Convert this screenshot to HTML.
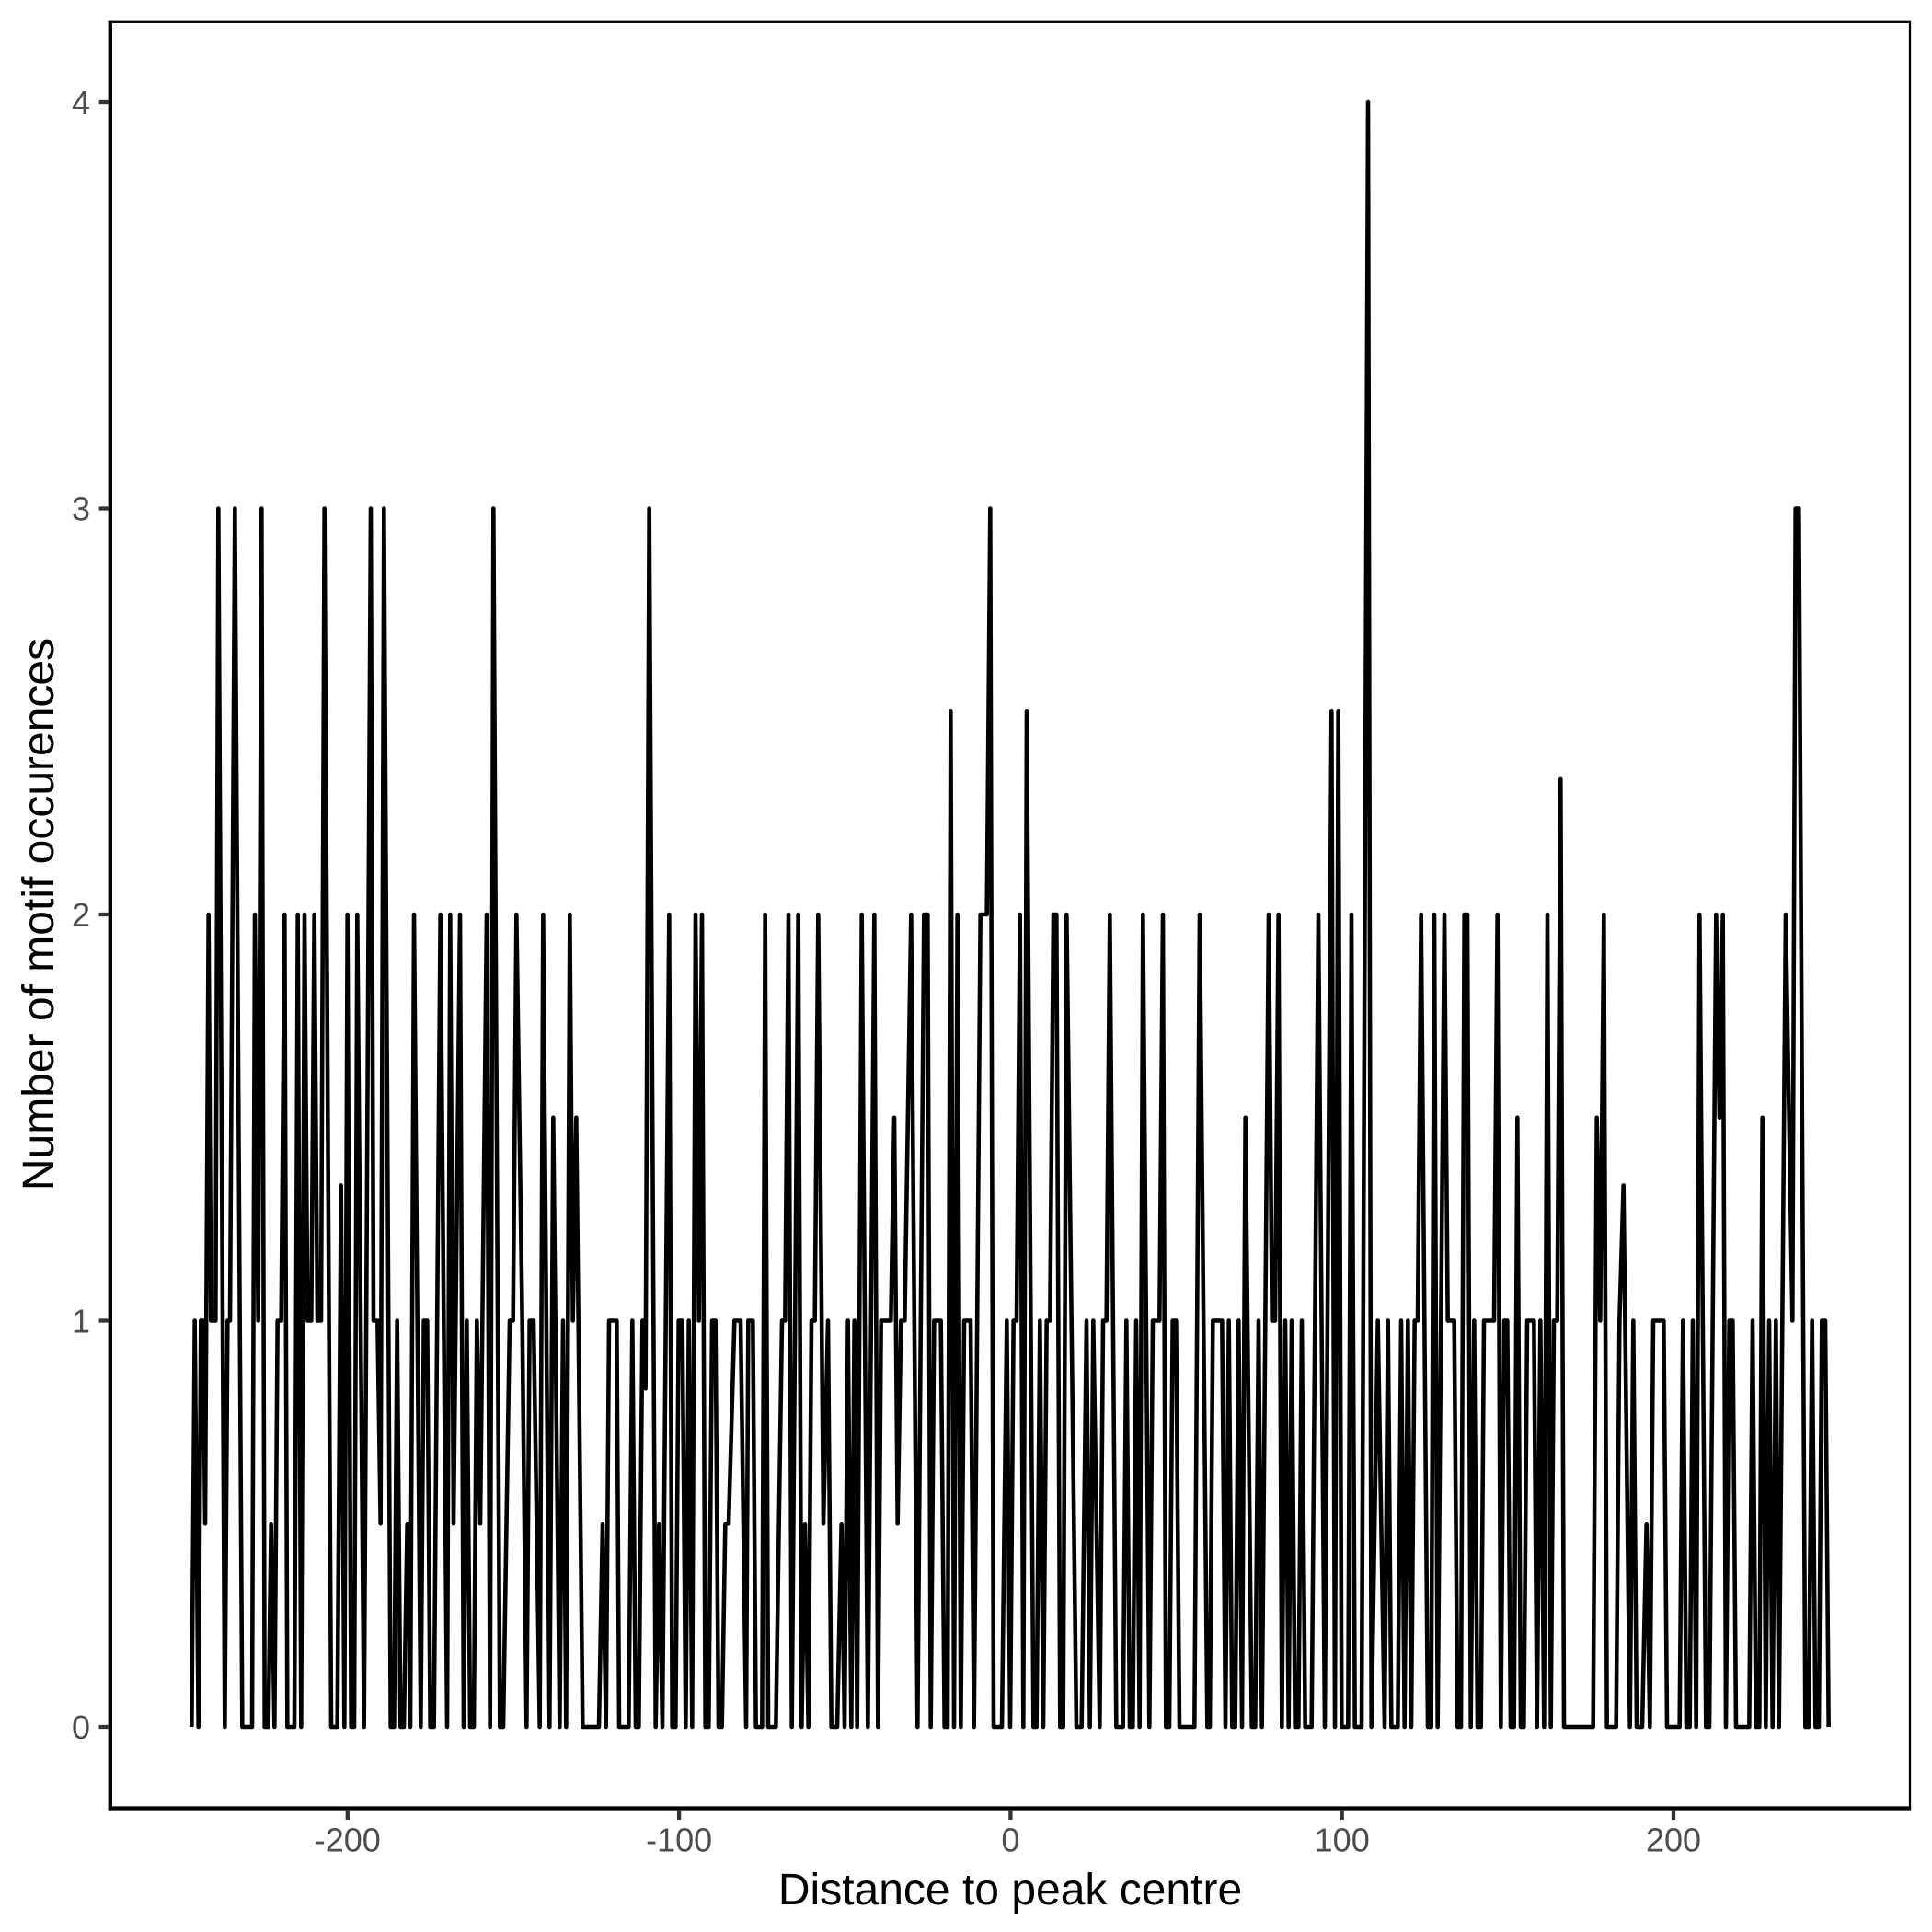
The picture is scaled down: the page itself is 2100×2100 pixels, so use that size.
<!DOCTYPE html>
<html>
<head>
<meta charset="utf-8">
<style>
html,body{margin:0;padding:0;background:#fff;}
svg{display:block;}
text{font-family:"Liberation Sans",Arial,sans-serif;}
</style>
</head>
<body>
<svg width="2100" height="2100" viewBox="0 0 2100 2100" xmlns="http://www.w3.org/2000/svg">
<rect x="0" y="0" width="2100" height="2100" fill="#fff"/>
<!-- panel border -->
<rect x="119.8" y="23.8" width="1956.2" height="1941.7" fill="none" stroke="#000" stroke-width="2.3"/>
<!-- axis lines -->
<line x1="119.8" y1="22.6" x2="119.8" y2="1967.6" stroke="#000" stroke-width="4.3"/>
<line x1="117.7" y1="1965.5" x2="2077.2" y2="1965.5" stroke="#000" stroke-width="4.2"/>

<!-- y ticks -->
<g stroke="#333" stroke-width="4.3">
<line x1="107.5" y1="1877" x2="118" y2="1877"/>
<line x1="107.5" y1="1435.5" x2="118" y2="1435.5"/>
<line x1="107.5" y1="994" x2="118" y2="994"/>
<line x1="107.5" y1="552.5" x2="118" y2="552.5"/>
<line x1="107.5" y1="111" x2="118" y2="111"/>
</g>
<g fill="#4D4D4D" font-size="36" text-anchor="end">
<text x="98" y="1890">0</text>
<text x="98" y="1448.5">1</text>
<text x="98" y="1007">2</text>
<text x="98" y="565.5">3</text>
<text x="98" y="124">4</text>
</g>

<!-- x ticks -->
<g stroke="#333" stroke-width="4.3">
<line x1="377.8" y1="1967" x2="377.8" y2="1978"/>
<line x1="738.1" y1="1967" x2="738.1" y2="1978"/>
<line x1="1098.4" y1="1967" x2="1098.4" y2="1978"/>
<line x1="1458.7" y1="1967" x2="1458.7" y2="1978"/>
<line x1="1819" y1="1967" x2="1819" y2="1978"/>
</g>
<g fill="#4D4D4D" font-size="36" text-anchor="middle">
<text x="377.8" y="2012.5">-200</text>
<text x="738.1" y="2012.5">-100</text>
<text x="1098.4" y="2012.5">0</text>
<text x="1458.7" y="2012.5">100</text>
<text x="1819" y="2012.5">200</text>
</g>

<!-- axis titles -->
<text x="1098" y="2070" font-size="48" text-anchor="middle" fill="#000">Distance to peak centre</text>
<text transform="translate(58 994) rotate(-90)" font-size="48" text-anchor="middle" fill="#000">Number of motif occurences</text>

<!-- data line -->
<g transform="translate(195 1877) scale(0.3333333 -441.5)">
<polyline fill="none" stroke="#000" stroke-width="4.6" stroke-linejoin="round" vector-effect="non-scaling-stroke" points="
40,0 50,1 62,0 70,1 77,1 84,0.5 95,2 103,1 118,1 127,3 148,0 157,1 165,1 181,3 205,0 237,0 246,2 257,1 268,3 278,0 290,0 299,0.5 310,0 320,1 332,1 343,2 352,0 375,0 386,2 397,0 408,2 418,1 430,1 440,2 450,1 462,1 473,3 495,0 515,0 527,1.333 538,0 548,2 560,0 570,0 580,2 602,0 624,3 633,1 646,1 656,0.5 667,3 689,0 700,0 710,1 721,0 732,0 743,0.5 748,0.5 753,0 765,2 787,0 797,1 808,1 818,0 830,0 851,2 873,0 883,2 894,0.5 915,2 927,0 937,1 948,0 960,0 970,1 981,0.5 1002,2 1013,0 1024,3 1045,0 1056,0 1077,1 1088,1 1099,2
1118,1 1132,0 1142,1 1155,1 1175,0 1186,2 1207,0 1219,1.5 1240,0 1251,1 1261,0 1273,2 1283,1 1294,1.5 1315,0 1368,0 1380,0.5 1391,0 1401,1 1426,1 1434,0 1465,0 1477,1 1488,0 1498,0 1510,1 1520,0.833 1532,3 1553,0 1564,0.5 1575,0 1597,2 1607,0 1618,0 1628,1 1640,1 1651,0 1661,1 1672,0 1683,2 1694,1 1704,2 1715,0 1726,0 1737,1 1748,1 1758,0 1769,0 1780,0.5 1791,0.5 1810,1 1830,1 1848,0 1855,1 1870,1 1880,0 1900,0 1910,2 1920,0 1945,0 1965,1 1975,1 1986,2 1997,0 2018,2 2029,0 2040,0.5 2051,0 2061,1 2072,1 2083,2 2100,0.5 2115,1 2126,0 2145,0 2159,0.5 2169,0 2180,1 2191,0 2201,1 2210,0
2225,2 2245,0 2266,2 2278,0 2288,1 2320,1 2331,1.5 2342,0.5 2353,1 2365,1 2386,2 2407,0 2428,2 2440,2 2450,0 2461,1 2483,1 2495,0 2505,0 2515,2.5 2526,0 2537,2 2548,0 2559,1 2580,1 2591,0 2612,2 2633,2 2644,3 2655,0 2682,0 2698,1 2709,0 2720,1 2730,1 2741,2 2752,0 2763,2.5 2785,0 2795,0 2806,1 2817,0 2828,1 2839,1 2850,2 2860,2 2872,0 2882,0 2893,2 2925,0 2942,0 2958,1 2969,0 2980,1 3001,0 3012,1 3023,1 3034,2 3055,0 3077,0 3088,1 3099,0 3109,0 3120,1 3131,0 3142,2 3163,0 3174,1 3196,1 3207,2 3217,0 3228,0 3239,1 3250,1 3261,0 3310,0 3327,2
3352,0 3360,0 3370,1 3400,1 3411,0 3422,1 3433,0 3443,0 3454,1 3465,0 3476,1.5 3497,0 3508,0 3519,1 3530,0 3552,2 3563,1 3573,1 3584,2 3595,0 3606,1 3617,0 3627,1 3638,0 3649,0 3660,1 3671,0 3692,0 3714,2 3735,0 3757,2.5 3768,0 3779,2.5 3790,0 3811,0 3822,2 3833,0 3855,0 3876,4 3887,0 3908,1 3930,0 3941,1 3952,0 3973,0 3984,1 3995,0 4006,1 4017,0 4028,1 4038,1 4049,2 4071,0 4082,0 4092,2 4103,0 4125,2 4136,1 4157,1 4168,0 4179,0 4190,2 4200,2 4211,0 4222,1 4233,0 4244,0 4254,1 4287,1 4298,2 4309,0 4320,1 4330,1 4341,0 4352,0 4363,1.5 4374,0 4384,0 4395,1 4417,1 4427,0 4438,1
4450,0 4461,2 4472,0 4482,1 4493,1 4504,2.333 4515,0 4610,0 4622,1.5 4633,1 4645,2 4655,0 4685,0 4696,1 4709,1.333 4730,0 4741,1 4752,0 4770,0 4784,0.5 4795,0 4806,1 4840,1 4851,0 4892,0 4903,1 4914,0 4925,0 4935,1 4946,0 4957,2 4978,0 4989,0 5011,2 5022,1.5 5033,2 5043,0 5054,1 5065,1 5076,0 5119,0 5130,1 5141,0 5152,0 5162,1.5 5173,0 5184,1 5195,0 5206,1 5216,0 5238,2 5260,1 5270,3 5281,3 5302,0 5313,0 5324,1 5335,0 5346,0 5356,1 5367,1 5378,0"/>
</g>
</svg>
</body>
</html>
